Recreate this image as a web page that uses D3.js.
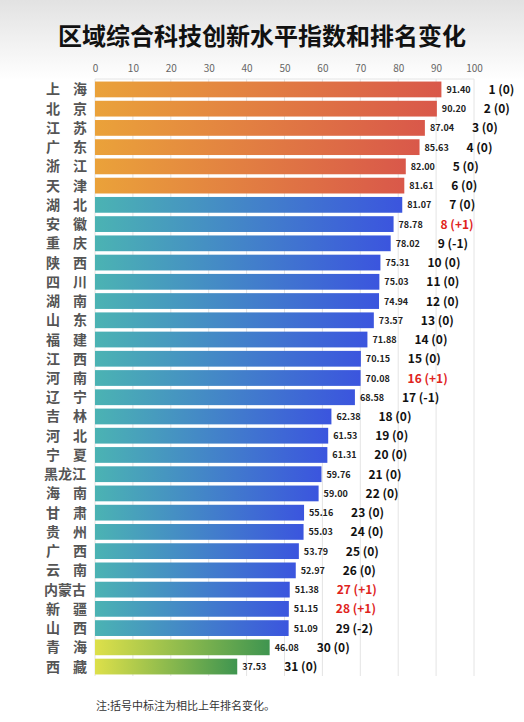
<!DOCTYPE html>
<html>
<head>
<meta charset="UTF-8">
<style>
  body { margin: 0; background: #fff; }
  text { font-family: "Noto Sans CJK SC", "Noto Sans", sans-serif; }
</style>
</head>
<body>
<script src="https://cdn.jsdelivr.net/npm/d3@7/dist/d3.min.js"></script>
<script>
var regions = ["上海","北京","江苏","广东","浙江","天津","湖北","安徽","重庆","陕西","四川","湖南","山东","福建","江西","河南","辽宁","吉林","河北","宁夏","黑龙江","海南","甘肃","贵州","广西","云南","内蒙古","新疆","山西","青海","西藏"];
var values = [91.40,90.20,87.04,85.63,82.00,81.61,81.07,78.78,78.02,75.31,75.03,74.94,73.57,71.88,70.15,70.08,68.58,62.38,61.53,61.31,59.76,59.00,55.16,55.03,53.79,52.97,51.38,51.15,51.09,46.08,37.53];
var changes = ["0","0","0","0","0","0","0","+1","-1","0","0","0","0","0","0","+1","-1","0","0","0","0","0","0","0","0","0","+1","+1","-2","0","0"];
var groups = ["top","top","top","top","top","top","mid","mid","mid","mid","mid","mid","mid","mid","mid","mid","mid","mid","mid","mid","mid","mid","mid","mid","mid","mid","mid","mid","mid","low","low"];
var xTicks = [0,10,20,30,40,50,60,70,80,90,100];

var W = 524, H = 722;
var svg = d3.select("body").append("svg").attr("width", W).attr("height", H);
var defs = svg.append("defs");

// header background fade
var bg = defs.append("linearGradient").attr("id", "bg").attr("x1", 0).attr("x2", 0).attr("y1", 0).attr("y2", 1);
bg.append("stop").attr("offset", "0%").attr("stop-color", "#e2e2e2");
bg.append("stop").attr("offset", "100%").attr("stop-color", "#ffffff");
svg.append("rect").attr("width", W).attr("height", 80).attr("fill", "url(#bg)");

function grad(id, c1, c2) {
  var g = defs.append("linearGradient").attr("id", id);
  g.append("stop").attr("offset", "0%").attr("stop-color", c1);
  g.append("stop").attr("offset", "100%").attr("stop-color", c2);
}
grad("top", "#eaa23a", "#d9584a");
grad("mid", "#4bb3b3", "#3b55de");
grad("low", "#dde04a", "#3f9550");

svg.append("text").attr("x", W / 2).attr("y", 45).attr("text-anchor", "middle")
  .attr("font-size", 24).attr("font-weight", "bold").attr("fill", "#111")
  .text("区域综合科技创新水平指数和排名变化");

var x = d3.scaleLinear().domain([0, 100]).range([95, 474]);
var y = d3.scaleBand().domain(regions).range([80, 676]).paddingInner(0.18).paddingOuter(0.08);

svg.append("g").selectAll("line").data(xTicks).enter().append("line")
  .attr("x1", d => x(d)).attr("x2", d => x(d)).attr("y1", 79).attr("y2", 676)
  .attr("stroke", "#e4e4e4");
svg.append("line").attr("x1", x(0)).attr("x2", x(100)).attr("y1", 79).attr("y2", 79).attr("stroke", "#e4e4e4");

var ax = svg.append("g").attr("transform", "translate(0,72)")
  .call(d3.axisTop(x).tickValues(xTicks).tickSize(0).tickPadding(0));
ax.select(".domain").remove();
ax.selectAll("text").attr("font-size", 10).attr("fill", "#666");

var rows = svg.append("g").selectAll("g").data(regions).enter().append("g");

rows.append("rect")
  .attr("x", x(0)).attr("y", d => y(d))
  .attr("width", (d, i) => x(values[i]) - x(0)).attr("height", y.bandwidth())
  .attr("fill", (d, i) => "url(#" + groups[i] + ")");

rows.append("text")
  .attr("y", d => y(d) + y.bandwidth() / 2 + 5)
  .attr("font-size", 14).attr("font-weight", "bold").attr("fill", "#555")
  .each(function(d) {
    var t = d3.select(this);
    if (d.length === 2) {
      t.append("tspan").attr("x", 46).text(d[0]);
      t.append("tspan").attr("x", 73).text(d[1]);
    } else {
      t.append("tspan").attr("x", 44).text(d);
    }
  });

rows.append("text")
  .attr("x", (d, i) => x(values[i]) + 5)
  .attr("y", d => y(d) + y.bandwidth() / 2 + 3.5)
  .attr("font-size", 9).attr("font-weight", "bold").attr("fill", "#222")
  .text((d, i) => values[i].toFixed(2));

rows.append("text")
  .attr("x", (d, i) => x(values[i]) + 47)
  .attr("y", d => y(d) + y.bandwidth() / 2 + 4.5)
  .attr("font-size", 12).attr("font-weight", "bold")
  .attr("fill", (d, i) => changes[i][0] === "+" ? "#e0231c" : "#111")
  .text((d, i) => (i + 1) + " (" + changes[i] + ")");

svg.append("text").attr("x", 96).attr("y", 710).attr("font-size", 11).attr("fill", "#333")
  .text("注:括号中标注为相比上年排名变化。");
</script>
</body>
</html>
